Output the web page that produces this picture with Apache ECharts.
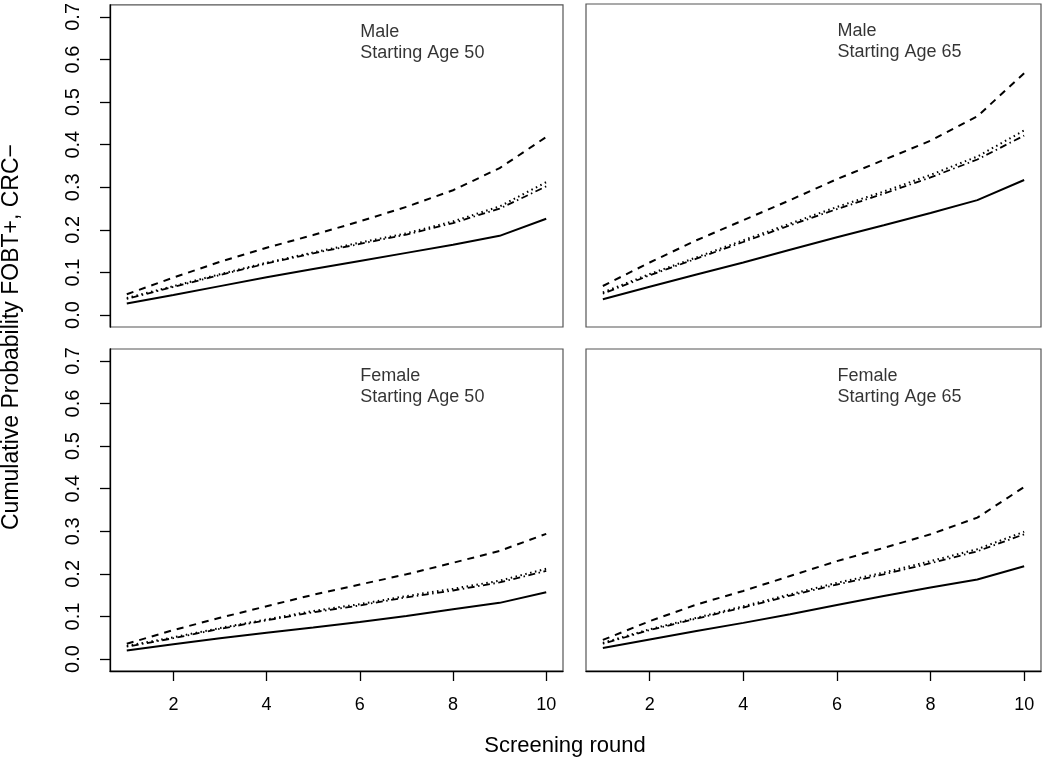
<!DOCTYPE html>
<html>
<head>
<meta charset="utf-8">
<script src="https://cdn.jsdelivr.net/npm/echarts@6/dist/echarts.min.js"></script>
<style>
  html, body { margin: 0; padding: 0; background: #ffffff; }
  #chart { width: 1050px; height: 766px; }
</style>
</head>
<body>
<div id="chart"></div>
<script>
// ---- Data ----
const rounds = [1, 2, 3, 4, 5, 6, 7, 8, 9, 10];
const xTicks = [2, 4, 6, 8, 10];
const yTicks = [0, 0.1, 0.2, 0.3, 0.4, 0.5, 0.6, 0.7];

const panelTitles = [
  'Male\nStarting Age 50',
  'Male\nStarting Age 65',
  'Female\nStarting Age 50',
  'Female\nStarting Age 65'
];

// Male, starting age 50
const m50Solid   = [0.027, 0.047, 0.068, 0.089, 0.108, 0.127, 0.146, 0.165, 0.186, 0.226];
const m50Dashed  = [0.049, 0.088, 0.125, 0.158, 0.188, 0.220, 0.254, 0.293, 0.345, 0.418];
const m50Dotted  = [0.040, 0.068, 0.096, 0.123, 0.147, 0.170, 0.192, 0.220, 0.255, 0.312];
const m50DashDot = [0.038, 0.066, 0.094, 0.121, 0.145, 0.167, 0.189, 0.216, 0.250, 0.302];

// Male, starting age 65
const m65Solid   = [0.037, 0.066, 0.095, 0.123, 0.153, 0.182, 0.210, 0.239, 0.269, 0.316];
const m65Dashed  = [0.068, 0.123, 0.175, 0.222, 0.269, 0.318, 0.363, 0.408, 0.465, 0.566];
const m65Dotted  = [0.053, 0.096, 0.135, 0.175, 0.214, 0.253, 0.289, 0.328, 0.371, 0.432];
const m65DashDot = [0.050, 0.093, 0.132, 0.171, 0.210, 0.248, 0.284, 0.322, 0.364, 0.420];

// Female, starting age 50
const f50Solid   = [0.020, 0.035, 0.049, 0.062, 0.074, 0.087, 0.101, 0.117, 0.132, 0.157];
const f50Dashed  = [0.036, 0.068, 0.097, 0.124, 0.151, 0.175, 0.199, 0.226, 0.254, 0.294];
const f50Dotted  = [0.031, 0.051, 0.073, 0.093, 0.113, 0.129, 0.148, 0.165, 0.184, 0.212];
const f50DashDot = [0.029, 0.049, 0.071, 0.091, 0.110, 0.126, 0.145, 0.161, 0.180, 0.207];

// Female, starting age 65
const f65Solid   = [0.026, 0.046, 0.066, 0.085, 0.105, 0.127, 0.148, 0.168, 0.187, 0.218];
const f65Dashed  = [0.045, 0.089, 0.128, 0.160, 0.195, 0.230, 0.261, 0.293, 0.332, 0.404];
const f65Dotted  = [0.038, 0.070, 0.097, 0.124, 0.152, 0.179, 0.203, 0.230, 0.258, 0.299];
const f65DashDot = [0.036, 0.068, 0.095, 0.121, 0.149, 0.175, 0.199, 0.225, 0.253, 0.293];

const panels = [
  [m50Solid, m50Dashed, m50Dotted, m50DashDot],
  [m65Solid, m65Dashed, m65Dotted, m65DashDot],
  [f50Solid, f50Dashed, f50Dotted, f50DashDot],
  [f65Solid, f65Dashed, f65Dotted, f65DashDot]
];

// ---- Layout / style ----
const labelAt = [6, 0.64];
const FONT = '"Liberation Sans", Arial, Helvetica, sans-serif';
const grids = [
  { left: 110, top: 4,   width: 453, height: 323 },
  { left: 586, top: 4,   width: 455, height: 323 },
  { left: 110, top: 349, width: 453, height: 322 },
  { left: 586, top: 349, width: 455, height: 322 }
];
const lineStyles = [
  { type: 'solid', width: 2 },
  { type: [7, 6], width: 2 },
  { type: [1.5, 3.5], width: 2 },
  { type: [1.5, 3.5, 7, 3.5], width: 1.8 }
];

const option = {
  backgroundColor: '#ffffff',
  animation: false,
  grid: grids.map(g => Object.assign({ show: true, borderColor: '#555', borderWidth: 1.2, backgroundColor: '#fff' }, g)),
  xAxis: grids.map((g, i) => ({
    gridIndex: i,
    type: 'value',
    min: 0.64,
    max: 10.36,
    splitLine: { show: false },
    axisLine: { show: i >= 2, onZero: false, lineStyle: { color: '#000', width: 1.3 } },
    axisTick: { show: i >= 2, customValues: xTicks, length: 10, lineStyle: { color: '#000', width: 1.3 } },
    axisLabel: {
      show: i >= 2, customValues: xTicks, margin: 25,
      color: '#000', fontSize: 18, fontFamily: FONT
    }
  })),
  yAxis: grids.map((g, i) => ({
    gridIndex: i,
    type: 'value',
    min: -0.028,
    max: 0.728,
    splitLine: { show: false },
    axisLine: { show: i % 2 === 0, onZero: false, lineStyle: { color: '#000', width: 1.3 } },
    axisTick: { show: i % 2 === 0, customValues: yTicks, length: 10, lineStyle: { color: '#000', width: 1.3 } },
    axisLabel: {
      show: i % 2 === 0, customValues: yTicks, rotate: 90, margin: 27,
      color: '#000', fontSize: 20, fontFamily: FONT,
      formatter: v => v.toFixed(1)
    }
  })),
  graphic: [
    {
      type: 'text', x: 12, y: 337, rotation: Math.PI / 2,
      style: {
        text: 'Cumulative Probability FOBT+, CRC\u2212',
        fill: '#000', font: '23px ' + FONT,
        align: 'center', verticalAlign: 'middle'
      }
    },
    {
      type: 'text', x: 565, y: 746,
      style: {
        text: 'Screening round',
        fill: '#000', font: '22px ' + FONT,
        align: 'center', verticalAlign: 'middle'
      }
    }
  ],
  series: []
};

panels.forEach((set, p) => {
  set.forEach((vals, k) => {
    option.series.push({
      type: 'line',
      xAxisIndex: p, yAxisIndex: p,
      data: rounds.map((r, j) => [r, vals[j]]),
      showSymbol: false,
      symbol: 'none',
      smooth: false,
      lineStyle: Object.assign({ color: '#000' }, lineStyles[k])
    });
  });
  option.series.push({
    type: 'scatter',
    xAxisIndex: p, yAxisIndex: p,
    data: [labelAt],
    symbolSize: 1,
    itemStyle: { color: 'rgba(0,0,0,0)' },
    silent: true,
    label: {
      show: true, position: 'right', distance: 0,
      formatter: panelTitles[p],
      color: '#000', fontSize: 18, lineHeight: 21, fontFamily: FONT
    }
  });
});

const chart = echarts.init(document.getElementById('chart'), null, { renderer: 'canvas' });
chart.setOption(option);
</script>
</body>
</html>
